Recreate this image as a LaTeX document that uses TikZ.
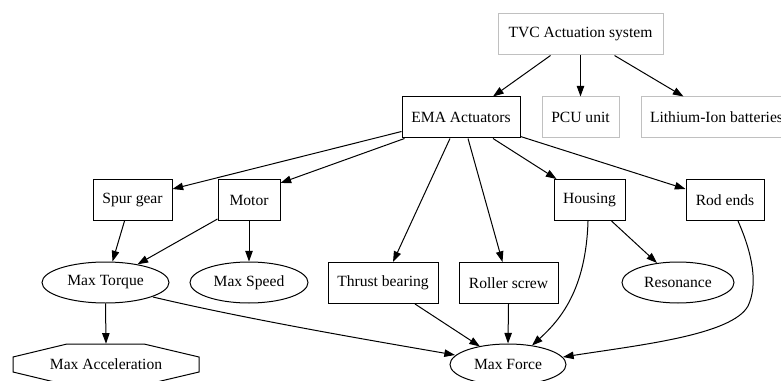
\documentclass[tikz,border=0pt]{standalone}
\usepackage{fontspec}
\setmainfont{Liberation Serif}
\usetikzlibrary{arrows.meta,calc,shapes.geometric}
\definecolor{lgray}{RGB}{192,192,192}
\begin{document}
\begin{tikzpicture}[x=0.75pt,y=-0.75pt,
 every node/.style={font=\fontsize{11.7pt}{14pt}\selectfont, inner sep=0pt},
 box/.style={draw, line width=0.75pt, rectangle, minimum height=41*0.75pt, minimum width=#1*0.75pt},
 gbox/.style={box=#1, draw=lgray},
 oval/.style={draw, line width=0.75pt, ellipse, minimum height=41*0.75pt, minimum width=#1*0.75pt},
 edge/.style={line width=0.75pt, -{Triangle[length=8pt,width=5.6pt]}},
]
\useasboundingbox (0,0) rectangle (781,381);
\clip (0,0) rectangle (781,381);
% nodes
\node[gbox=165] (tvc) at (580.5,34.5) {TVC Actuation system};
\node[box=118] (ema) at (461,117.5) {EMA Actuators};
\node[gbox=77] (pcu) at (580.5,117.5) {PCU unit};
\node[gbox=151] (lith) at (716.5,117.5) {Lithium-Ion batteries};
\node[box=79] (spur) at (132.5,200) {Spur gear};
\node[box=62] (motor) at (249,200) {Motor};
\node[box=71] (housing) at (589.5,200) {Housing};
\node[box=78] (rod) at (725,200) {Rod ends};
\node[oval=127] (torque) at (105.5,282.5) {Max Torque};
\node[oval=118] (speed) at (249,282.5) {Max Speed};
\node[box=110] (thrust) at (383,283) {Thrust bearing};
\node[box=99] (roller) at (508.5,283) {Roller screw};
\node[oval=112] (reson) at (678,282.5) {Resonance};
\node[minimum width=186*0.75pt, minimum height=41*0.75pt] (accel) at (106,364.5) {Max Acceleration};
\draw[line width=0.75pt, shift={(accel.center)}] (-39,-20.5) -- (38,-20.5) -- (93,-7.5) -- (93,7.5) -- (38,20.5) -- (-39,20.5) -- (-93,7.5) -- (-93,-7.5) -- cycle;
\node[oval=116] (force) at (508,364.5) {Max Force};
% edges
\draw[edge] ($(tvc.south)+(-30,0)$) -- ($(ema.north)+(32,0)$);
\draw[edge] (tvc.south) -- (pcu.north);
\draw[edge] ($(tvc.south)+(34,0)$) -- ($(lith.north)+(-33,0)$);
\draw[edge] ($(ema.south west)+(0,-7)$) -- ($(spur.north east)+(0,10)$);
\draw[edge] ($(ema.south west)+(3,0)$) -- ($(motor.north east)+(0,4)$);
\draw[edge] ($(ema.south)+(-11,0)$) -- ($(thrust.north)+(10,0)$);
\draw[edge] ($(ema.south)+(7,0)$) -- ($(roller.north)+(-6,0)$);
\draw[edge] ($(ema.south)+(32,0)$) -- ($(housing.north)+(-33,0)$);
\draw[edge] ($(ema.south east)+(0,-2)$) -- ($(rod.west)+(0,-11)$);
\draw[edge] ($(spur.south)+(-8,0)$) -- ($(torque.north)+(7,0)$);
\draw[edge] ($(motor.south west)+(0,-2)$) -- ($(torque.north)+(32,2.8)$);
\draw[edge] (motor.south) -- (speed.north);
\draw[edge] ($(housing.south)+(22,0)$) -- ($(reson.north)+(-21,1.5)$);
\draw[edge] ($(housing.south)+(-1.5,0)$) .. controls (586,290) and (560,320) .. ($(force.north)+(24,2)$);
\draw[edge] ($(rod.south)+(13,0)$) .. controls (753,255) and (758,285) .. (748,306) .. controls (732,335) and (640,345) .. ($(force.center)+(55,-7.5)$);
\draw[edge] ($(torque.center)+(47.5,14.5)$) .. controls (250,320) and (380,342) .. ($(force.center)+(-53,-9.5)$);
\draw[edge] ($(thrust.south)+(32,0)$) -- ($(force.center)+(-28,-18)$);
\draw[edge] (roller.south) -- (force.north);
\draw[edge] (torque.south) -- (accel.north);
\end{tikzpicture}
\end{document}
